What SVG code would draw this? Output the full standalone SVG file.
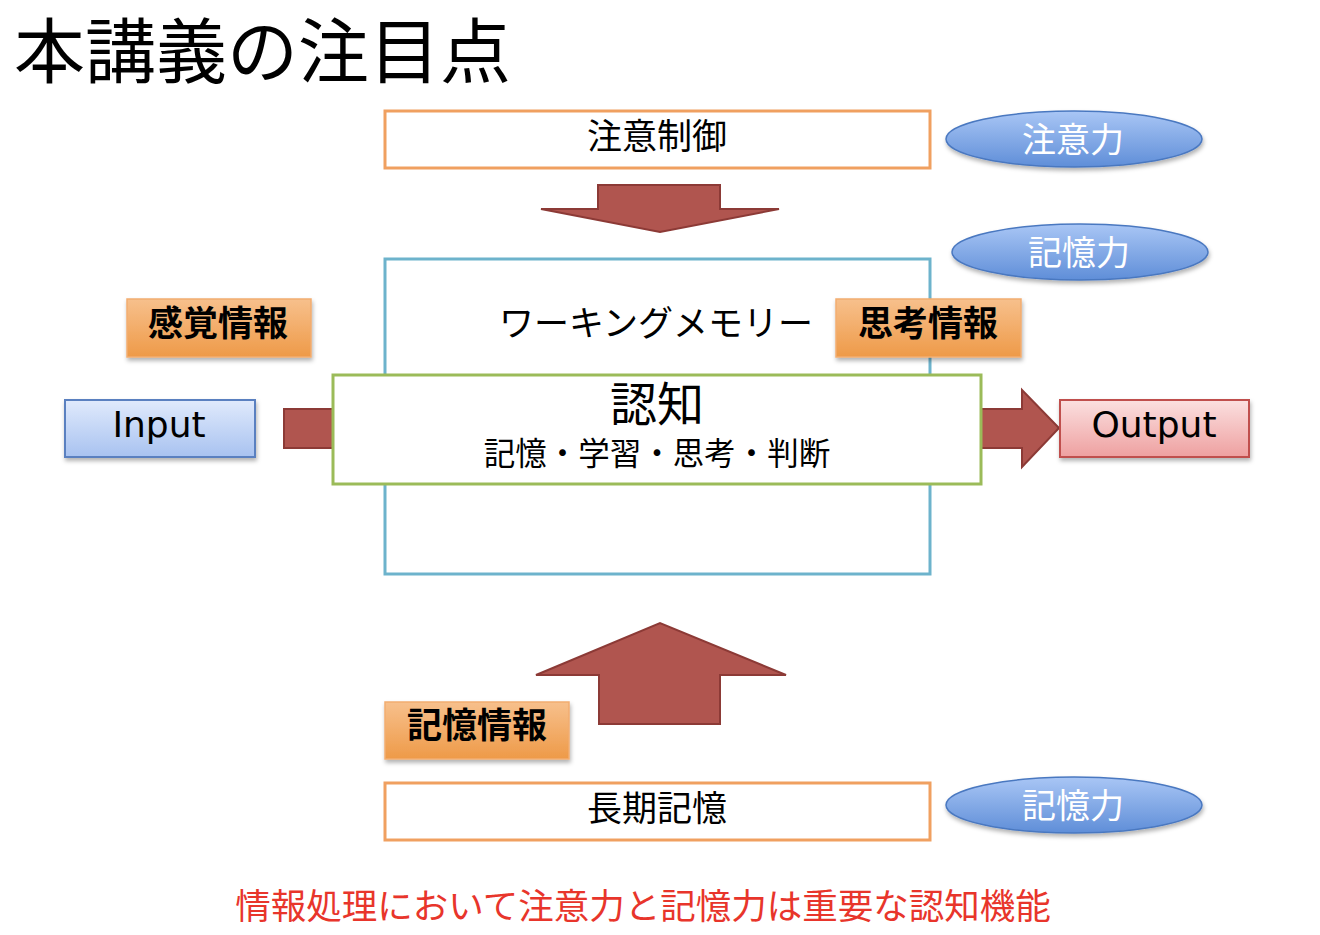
<svg xmlns="http://www.w3.org/2000/svg" width="1320" height="935" viewBox="0 0 1320 935">
<defs>
<linearGradient id="gOrange" x1="0" y1="0" x2="0" y2="1"><stop offset="0" stop-color="#f7c08c"/><stop offset="1" stop-color="#ee9a48"/></linearGradient>
<linearGradient id="gBlueEl" x1="0" y1="0" x2="0" y2="1"><stop offset="0" stop-color="#a9c6f5"/><stop offset="1" stop-color="#5f8ed8"/></linearGradient>
<linearGradient id="gInput" x1="0" y1="0" x2="0" y2="1"><stop offset="0" stop-color="#e0eafc"/><stop offset="1" stop-color="#a8c2f0"/></linearGradient>
<linearGradient id="gOutput" x1="0" y1="0" x2="0" y2="1"><stop offset="0" stop-color="#fbe0e0"/><stop offset="1" stop-color="#eea0a0"/></linearGradient>
<filter id="sh" x="-20%" y="-20%" width="140%" height="160%"><feDropShadow dx="1" dy="3" stdDeviation="2" flood-color="#000" flood-opacity="0.3"/></filter>
</defs>
<style>
text{font-family:"Noto Sans CJK JP","Liberation Sans",sans-serif;text-anchor:middle;dominant-baseline:central}
.box{fill:#fff;stroke:#f0a060;stroke-width:3}
.tag{fill:url(#gOrange);stroke:#f2ad70;stroke-width:1.5;filter:url(#sh)}
.tagt{font-size:35px;font-weight:bold;fill:#000}
.el{fill:url(#gBlueEl);stroke:#4a78c0;stroke-width:1.5;filter:url(#sh)}
.elt{font-size:34px;fill:#fff}
.arrow{fill:#b0554f;stroke:#8c3a36;stroke-width:2}
.lat{font-family:"DejaVu Sans","Verdana",sans-serif;font-size:36px;fill:#000}
.t32{font-size:35px;fill:#000}
</style>
<rect width="1320" height="935" fill="#fff"/>
<text x="14" y="46" style="text-anchor:start;font-size:71px" fill="#000">本講義の注目点</text>

<g id="connectors">
<path class="arrow" d="M598,185 H720 V209 H779 L660,232 L541,209 H598 Z"/>
<path class="arrow" d="M599,724 H720 V675 H786 L660,623 L536,675 H599 Z"/>
<rect class="arrow" x="284" y="409" width="60" height="39"/>
<path class="arrow" d="M975,409 H1022 V390 L1059,428 L1022,467 V448 H975 Z"/>
</g>

<g id="n-attn-ctrl"><rect class="box" x="385" y="111" width="545" height="57"/><text class="t32" x="657" y="133">注意制御</text></g>
<g id="n-attn-el"><ellipse class="el" cx="1074" cy="139" rx="128" ry="28"/><text class="elt" x="1073" y="137">注意力</text></g>
<g id="n-mem-el1"><ellipse class="el" cx="1080" cy="252" rx="128" ry="28"/><text class="elt" x="1079" y="250">記憶力</text></g>

<g id="n-wm"><rect x="385" y="259" width="545" height="315" fill="none" stroke="#6db3cc" stroke-width="3"/><text class="t32" x="656" y="320">ワーキングメモリー</text></g>
<g id="n-sense"><rect class="tag" x="127" y="299" width="184" height="58"/><text class="tagt" x="218" y="320">感覚情報</text></g>
<g id="n-think"><rect class="tag" x="836" y="299" width="185" height="58"/><text class="tagt" x="928" y="320">思考情報</text></g>

<g id="n-input"><rect x="65" y="400" width="190" height="57" fill="url(#gInput)" stroke="#5a80c0" stroke-width="2" filter="url(#sh)"/><text class="lat" x="159" y="424">Input</text></g>
<g id="n-cog"><rect x="333" y="375" width="648" height="109" fill="#fff" stroke="#9bbb59" stroke-width="3"/><text x="657" y="400" style="font-size:47px" fill="#000">認知</text><text class="t32" x="657" y="451" style="font-size:31.5px">記憶・学習・思考・判断</text></g>
<g id="n-output"><rect x="1060" y="400" width="189" height="57" fill="url(#gOutput)" stroke="#c0504d" stroke-width="2" filter="url(#sh)"/><text class="lat" x="1154" y="424">Output</text></g>

<g id="n-meminfo"><rect class="tag" x="385" y="702" width="184" height="57"/><text class="tagt" x="477" y="722">記憶情報</text></g>
<g id="n-ltm"><rect class="box" x="385" y="783" width="545" height="57"/><text class="t32" x="657" y="805">長期記憶</text></g>
<g id="n-mem-el2"><ellipse class="el" cx="1074" cy="805" rx="128" ry="28"/><text class="elt" x="1073" y="803">記憶力</text></g>

<text x="643" y="903" style="font-size:35.5px" fill="#e8352b">情報処理において注意力と記憶力は重要な認知機能</text>
</svg>
